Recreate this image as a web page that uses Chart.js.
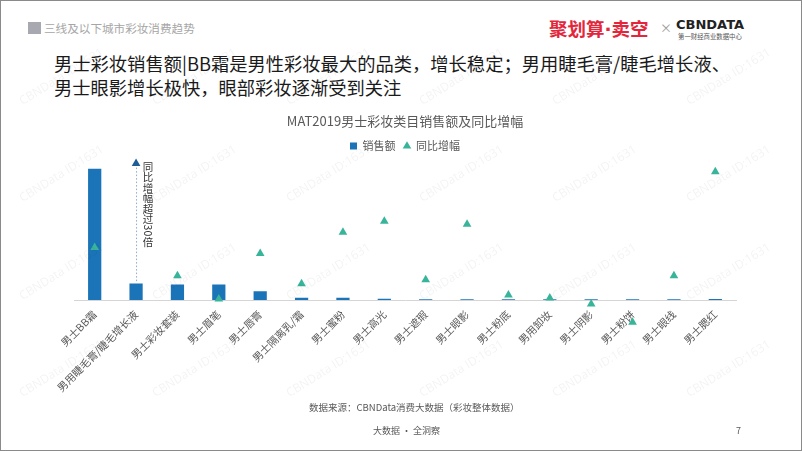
<!DOCTYPE html>
<html>
<head>
<meta charset="utf-8">
<script src="https://cdn.jsdelivr.net/npm/chart.js@4/dist/chart.umd.min.js"></script>
<style>
  body { margin: 0; background: #fff; }
  #page { position: relative; width: 802px; height: 451px; overflow: hidden; box-sizing: border-box; border: 1px solid #8a8a8a; font-family: "Noto Sans CJK SC", "Noto Sans", sans-serif; }
  .abs { position: absolute; white-space: nowrap; }
  #wm { position: absolute; left: 0; top: 0; width: 802px; height: 451px; pointer-events: none; }
  #wm span { position: absolute; font-size: 12px; color: rgba(0,0,0,0.05); transform: translate(-50%, -50%) rotate(-32deg); white-space: nowrap; font-family: "Open Sans", sans-serif; }
</style>
</head>
<body>
<div id="page">
  <div class="abs" style="left:27px;top:21px;width:13px;height:12px;background:#a8a8b0;"></div>
  <div class="abs" style="left:43px;top:18px;font-size:11.6px;color:#a6a6a6;line-height:18px;">三线及以下城市彩妆消费趋势</div>

  <div class="abs" style="left:548px;top:14px;font-size:18.5px;font-weight:bold;color:#e3263b;line-height:26px;">聚划算<span style="font-family:'DejaVu Sans';">·</span>卖空</div>
  <div class="abs" style="left:659px;top:19px;font-size:12px;color:#9a9a9a;line-height:16px;">×</div>
  <div class="abs" style="left:675px;top:16px;font-size:13px;font-weight:bold;color:#222;line-height:16px;font-family:'DejaVu Sans',sans-serif;">CBNDATA</div>
  <div class="abs" style="left:677px;top:32px;font-size:6.4px;color:#555;line-height:8px;">第一财经商业数据中心</div>

  <div class="abs" style="left:53px;top:50px;font-size:18.3px;color:#1a1a1a;line-height:24px;">男士彩妆销售额|BB霜是男性彩妆最大的品类，增长稳定；男用睫毛膏/睫毛增长液、<br>男士眼影增长极快，眼部彩妆逐渐受到关注</div>

  <canvas id="grafico" style="position:absolute;left:0;top:106px;"></canvas>

  <div class="abs" style="left:308px;top:399px;font-size:9.5px;color:#595959;line-height:14px;">数据来源：CBNData消费大数据（彩妆整体数据）</div>
  <div class="abs" style="left:372px;top:423px;font-size:9px;color:#595959;line-height:13px;">大数据 · 全洞察</div>
  <div class="abs" style="left:735px;top:423px;font-size:9px;color:#595959;line-height:13px;">7</div>

  <div id="wm"></div>
</div>
<script>
// categorias e valores
var categorias = ['男士BB霜', '男用睫毛膏/睫毛增长液', '男士彩妆套装', '男士眉笔', '男士唇膏', '男士隔离乳/霜', '男士蜜粉', '男士高光',
  '男士遮瑕', '男士眼影', '男士粉底', '男用卸妆', '男士阴影', '男士粉饼', '男士眼线', '男士腮红'];
var vendas = [100, 12.5, 11.8, 11.8, 6.7, 1.8, 1.8, 1.0, 0.5, 0.5, 0.5, 0.5, 0.5, 0.5, 0.5, 0.7];
var crescimento = [520, null, 240, 10, 460, 160, 670, 780, 200, 750, 50, 20, -40, -220, 240, 1270];
// ponto fora da escala (睫毛膏), desenhado no topo
var crescimentoFora = [null, 1350, null, null, null, null, null, null, null, null, null, null, null, null, null, null];
var notaFora = '同比增幅超过30倍';

// marca d'agua
var wm = document.getElementById('wm');
var wmX = [60, 193, 327, 460, 593, 727];
var wmY = [75, 172, 270, 367];
for (var i = 0; i < wmY.length; i++) {
  for (var j = 0; j < wmX.length; j++) {
    var s = document.createElement('span');
    s.textContent = 'CBNData ID:1631';
    s.style.left = wmX[j] + 'px';
    s.style.top = wmY[i] + 'px';
    wm.appendChild(s);
  }
}

// pontos abaixo do eixo (negativos) nao sao desenhados pelo Chart.js fora da area
var pontosFora = {
  id: 'pontosFora',
  afterDatasetsDraw: function (chart) {
    var area = chart.chartArea;
    var tela = { left: 0, top: 0, right: chart.width, bottom: chart.height };
    var meta = chart.getDatasetMeta(1);
    meta.data.forEach(function (pt) {
      if (!pt.skip && pt.y > area.bottom + 6) {
        pt.draw(chart.ctx, tela);
      }
    });
  }
};

// linha pontilhada + texto vertical
var anotacao = {
  id: 'anotacao',
  afterDatasetsDraw: function (chart) {
    var ctx = chart.ctx;
    var x = chart.scales.x.getPixelForValue(1);
    var yTopo = chart.scales.y1.getPixelForValue(crescimentoFora[1]);
    var yBarra = chart.scales.y.getPixelForValue(vendas[1]);
    ctx.save();
    ctx.strokeStyle = '#8fa9c4';
    ctx.lineWidth = 1;
    ctx.setLineDash([1.5, 2]);
    ctx.beginPath();
    ctx.moveTo(x + 0.5, yTopo + 4);
    ctx.lineTo(x + 0.5, yBarra - 1);
    ctx.stroke();
    ctx.setLineDash([]);

    var fs = 10.5;
    ctx.font = fs + 'px "Noto Sans CJK SC"';
    ctx.fillStyle = '#333';
    ctx.textBaseline = 'middle';
    var cx = x + 12;
    var y = yTopo - 2;
    for (var k = 0; k < notaFora.length; k++) {
      var c = notaFora[k];
      if (/[0-9A-Za-z]/.test(c)) {
        var w = ctx.measureText(c).width;
        ctx.save();
        ctx.translate(cx, y + w / 2);
        ctx.rotate(Math.PI / 2);
        ctx.textAlign = 'center';
        ctx.fillText(c, 0, 0);
        ctx.restore();
        y += w;
      } else {
        ctx.textAlign = 'center';
        ctx.fillText(c, cx, y + fs / 2);
        y += fs;
      }
    }
    ctx.restore();
  }
};

function montaGrafico() {
  var canvas = document.getElementById('grafico');
  canvas.width = 802;
  canvas.height = 294;
  var ctx = canvas.getContext('2d');
  new Chart(ctx, {
    type: 'bar',
    data: {
      labels: categorias,
      datasets: [
        {
          type: 'bar',
          label: '销售额',
          data: vendas,
          backgroundColor: '#1b74b8',
          borderWidth: 0,
          barPercentage: 0.32,
          categoryPercentage: 1,
          pointStyle: 'rect',
          yAxisID: 'y',
          order: 2
        },
        {
          type: 'line',
          label: '同比增幅',
          data: crescimento,
          showLine: false,
          pointStyle: 'triangle',
          pointRadius: 5,
          pointBackgroundColor: '#38b49a',
          pointBorderColor: '#38b49a',
          backgroundColor: '#38b49a',
          borderColor: '#38b49a',
          borderWidth: 0,
          clip: false,
          yAxisID: 'y1',
          order: 1
        },
        {
          type: 'line',
          label: 'fora',
          data: crescimentoFora,
          showLine: false,
          pointStyle: 'triangle',
          pointRadius: 5,
          pointBackgroundColor: '#1d5e99',
          pointBorderColor: '#1d5e99',
          borderWidth: 0,
          clip: false,
          yAxisID: 'y1',
          order: 0
        }
      ]
    },
    options: {
      responsive: false,
      animation: false,
      layout: { padding: { left: 73, right: 67, top: 0, bottom: 0 } },
      plugins: {
        title: {
          display: true,
          text: 'MAT2019男士彩妆类目销售额及同比增幅',
          color: '#595959',
          font: { size: 13, family: '"Noto Sans CJK SC"', weight: 'normal' },
          padding: { top: 6, bottom: 4 }
        },
        legend: {
          position: 'top',
          labels: {
            usePointStyle: true,
            boxWidth: 7,
            boxHeight: 7,
            padding: 8,
            color: '#595959',
            font: { size: 11, family: '"Noto Sans CJK SC"' },
            filter: function (item) { return item.text !== 'fora'; },
            sort: function (a, b) { return a.datasetIndex - b.datasetIndex; }
          }
        },
        tooltip: { enabled: false }
      },
      scales: {
        x: {
          grid: { display: false },
          border: { display: true, color: '#d5d5d5' },
          ticks: {
            color: '#595959',
            font: { size: 10.5, family: '"Noto Sans CJK SC"' },
            minRotation: 45,
            maxRotation: 45,
            autoSkip: false,
            padding: 0
          },
          afterFit: function (scale) { scale.height = 101; }
        },
        y: { display: false, min: 0, max: 105.4 },
        y1: { display: false, min: 0, max: 1370 }
      }
    },
    plugins: [anotacao, pontosFora]
  });
}

montaGrafico();
</script>
</body>
</html>
